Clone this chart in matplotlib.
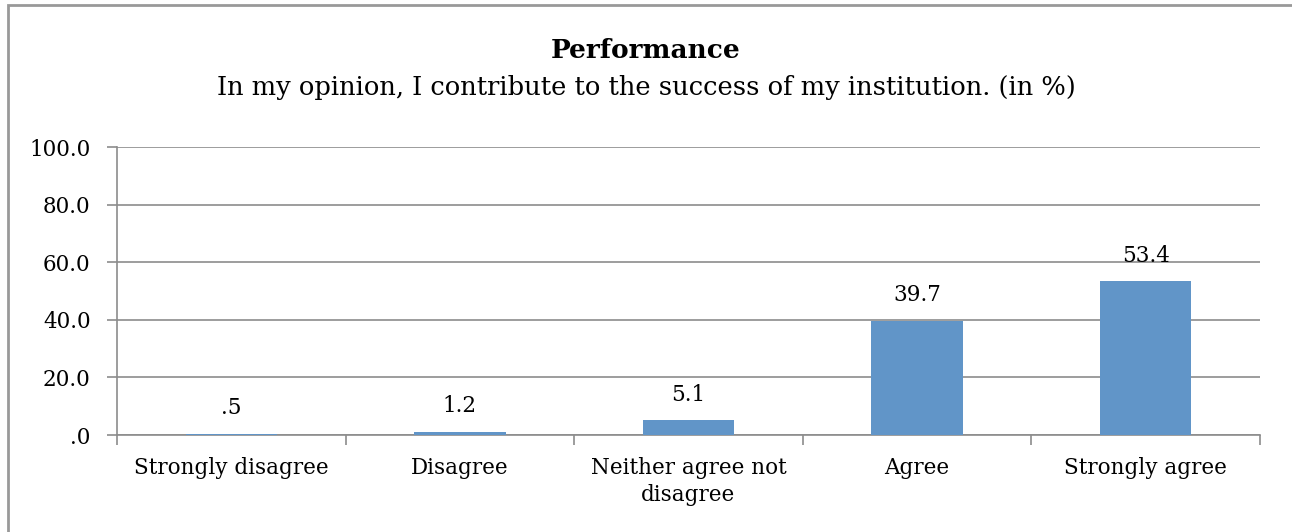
import matplotlib.pyplot as plt
import numpy as np
from matplotlib.patches import Rectangle

categories = ['Strongly disagree', 'Disagree', 'Neither agree not\ndisagree', 'Agree', 'Strongly agree']
values = [0.5, 1.2, 5.1, 39.7, 53.4]
labels = ['.5', '1.2', '5.1', '39.7', '53.4']
yticks = [0, 20, 40, 60, 80, 100]
ytick_labels = ['.0', '20.0', '40.0', '60.0', '80.0', '100.0']

plt.rcParams['font.family'] = ['DejaVu Serif']

fig = plt.figure(figsize=(12.92, 5.32), dpi=100)
ax = fig.add_axes([117/1292, 1 - 435/532, 1143/1292, 288/532])

grey = '#8c8c8c'
x = np.arange(len(categories))
ax.bar(x, values, width=0.4, color='#6195c8', zorder=3)
for xi, v, lab in zip(x, values, labels):
    ax.text(xi, v + 5, lab, ha='center', va='bottom', fontsize=15.5)

ax.set_xlim(-0.5, len(categories) - 0.5)
ax.set_ylim(0, 100)
ax.set_yticks(yticks)
ax.set_yticklabels(ytick_labels, fontsize=15.5)
ax.set_xticks(x)
ax.set_xticklabels(categories, fontsize=15.5, linespacing=1.3)
ax.tick_params(axis='x', length=0, pad=16)
ax.set_xticks(np.arange(-0.5, len(categories), 1), minor=True)
ax.tick_params(axis='x', which='minor', length=7, color=grey, width=1.2)
ax.tick_params(axis='y', length=7, color=grey, width=1.2, pad=12)
ax.grid(axis='y', color=grey, linewidth=1.2, zorder=0)
for side in ['top', 'right']:
    ax.spines[side].set_visible(False)
for side in ['left', 'bottom']:
    ax.spines[side].set_color(grey)
    ax.spines[side].set_linewidth(1.2)

fig.text(0.5, 1 - 50/532, 'Performance', ha='center', va='center', fontsize=19, fontweight='bold')
fig.text(0.5, 1 - 87/532, 'In my opinion, I contribute to the success of my institution. (in %)',
         ha='center', va='center', fontsize=18.5)

fig.patches.append(Rectangle((8/1292, -0.01), 1.02, 1 - 5/532 + 0.01, transform=fig.transFigure,
                             fill=False, edgecolor='#999999', linewidth=2))

fig.savefig('out.png', dpi=100)
